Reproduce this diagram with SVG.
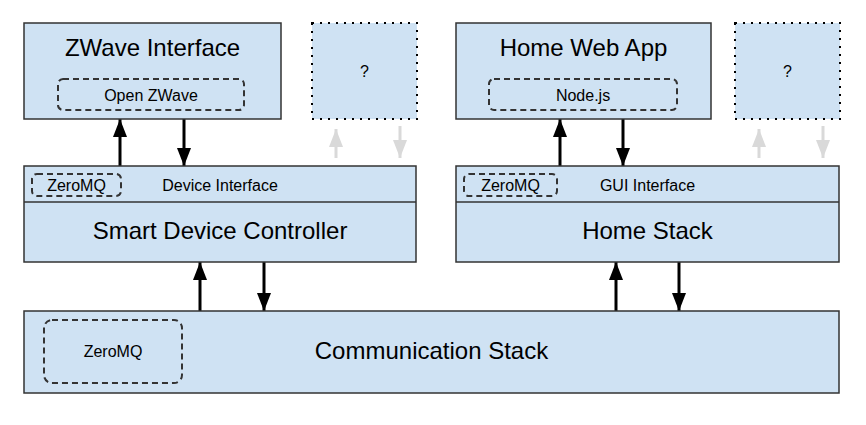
<svg xmlns="http://www.w3.org/2000/svg" width="866" height="425" viewBox="0 0 866 425">
<style>
.box{fill:#cfe2f3;stroke:#333;stroke-width:1.5}
.dot{fill:#cfe2f3;stroke:#000;stroke-width:2;stroke-dasharray:2,6}
.dash{fill:none;stroke:#333;stroke-width:2;stroke-dasharray:6,4}
.sep{stroke:#333;stroke-width:1.5}
text{font-family:"Liberation Sans",Arial,sans-serif;fill:#000;text-anchor:middle}
.t24{font-size:24px}
.t16{font-size:16px}
.a{stroke:#000;stroke-width:3;fill:none;marker-end:url(#hb)}
.g{stroke:#d9d9d9;stroke-width:3;fill:none;marker-end:url(#hg)}
</style>
<defs>
<marker id="hb" markerUnits="userSpaceOnUse" markerWidth="18" markerHeight="14" viewBox="0 0 18 14" refX="18" refY="7" orient="auto"><path d="M0,0 L18,7 L0,14 z" fill="#000"/></marker>
<marker id="hg" markerUnits="userSpaceOnUse" markerWidth="18" markerHeight="14" viewBox="0 0 18 14" refX="18" refY="7" orient="auto"><path d="M0,0 L18,7 L0,14 z" fill="#d9d9d9"/></marker>
</defs>
<rect width="866" height="425" fill="#fff"/>
<g id="connectors">
<path class="a" d="M120,166 V119"/>
<path class="a" d="M184,119 V166"/>
<path class="a" d="M560,166 V119"/>
<path class="a" d="M623,119 V166"/>
<path class="a" d="M200,311 V262"/>
<path class="a" d="M264,262 V311"/>
<path class="a" d="M616,311 V262"/>
<path class="a" d="M679,262 V311"/>
<path class="g" d="M336,158 V129"/>
<path class="g" d="M400,126 V158"/>
<path class="g" d="M759,158 V129"/>
<path class="g" d="M823,126 V158"/>
</g>
<g id="zwave">
<rect class="box" x="24" y="23" width="257" height="96"/>
<text class="t24" x="152.5" y="56">ZWave Interface</text>
<rect class="dash" x="58" y="79" width="186" height="31" rx="5"/>
<text class="t16" x="151" y="100.5">Open ZWave</text>
</g>
<g id="unknown1">
<rect class="dot" x="312" y="23" width="105" height="96"/>
<text class="t16" x="364.5" y="77">?</text>
</g>
<g id="webapp">
<rect class="box" x="456" y="23" width="255" height="96"/>
<text class="t24" x="583.5" y="56">Home Web App</text>
<rect class="dash" x="489" y="79" width="188" height="31" rx="5"/>
<text class="t16" x="583" y="100.5">Node.js</text>
</g>
<g id="unknown2">
<rect class="dot" x="735" y="23" width="105" height="96"/>
<text class="t16" x="787.5" y="77">?</text>
</g>
<g id="sdc">
<rect class="box" x="24" y="166" width="392" height="96"/>
<line class="sep" x1="24" y1="202" x2="416" y2="202"/>
<rect class="dash" x="32" y="174" width="89" height="22" rx="5"/>
<text class="t16" x="76.5" y="191.3">ZeroMQ</text>
<text class="t16" x="220" y="191.3">Device Interface</text>
<text class="t24" x="220" y="239.3">Smart Device Controller</text>
</g>
<g id="homestack">
<rect class="box" x="456" y="166" width="383" height="96"/>
<line class="sep" x1="456" y1="202" x2="839" y2="202"/>
<rect class="dash" x="464" y="174" width="93" height="22" rx="5"/>
<text class="t16" x="510.5" y="191.3">ZeroMQ</text>
<text class="t16" x="647.5" y="191.3">GUI Interface</text>
<text class="t24" x="647.5" y="239.3">Home Stack</text>
</g>
<g id="comm">
<rect class="box" x="24" y="311" width="815" height="82"/>
<rect class="dash" x="44" y="320" width="138" height="63" rx="8"/>
<text class="t16" x="113" y="357.3">ZeroMQ</text>
<text class="t24" x="431.5" y="359.3">Communication Stack</text>
</g>
</svg>
